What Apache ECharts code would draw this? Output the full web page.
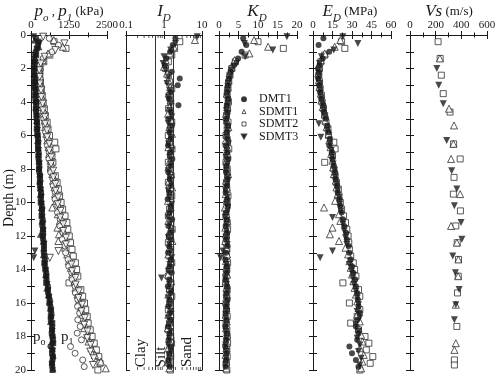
<!DOCTYPE html>
<html>
<head>
<meta charset="utf-8">
<script src="https://cdn.jsdelivr.net/npm/echarts@6.0.0/dist/echarts.min.js"></script>
<style>
  html, body { margin: 0; padding: 0; background: #fff; }
  #main { width: 500px; height: 376px; }
</style>
</head>
<body>
<div id="main"></div>
<script>
// depths (m) of each sounding
const depthDMT1 = [0.2,0.6,1.0,1.4,1.8,2.2,2.6,3.0,3.4,3.8,4.2,4.6,5.0,5.4,5.8,6.2,6.6,7.0,7.4,7.8,8.2,8.6,9.0,9.4,9.8,10.2,10.6,11.0,11.4,11.8,12.2,12.6,13.0,13.4,13.8,14.2,14.6,15.0,15.4,15.8,16.2,16.6,17.0,17.4,17.8,18.2,18.6,19.0,19.4,19.8]
const depthSDMT1 = [0.3,0.7,1.1,1.5,1.9,2.3,2.7,3.1,3.5,3.9,4.3,4.7,5.1,5.5,5.9,6.3,6.7,7.1,7.5,7.9,8.3,8.7,9.1,9.5,9.9,10.3,10.7,11.1,11.5,11.9,12.3,12.7,13.1,13.5,13.9,14.3,14.7,15.1,15.5,15.9,16.3,16.7,17.1,17.5,17.9,18.3,18.7,19.1,19.5,19.9]
const depthSDMT2 = [0.4,0.8,1.2,1.6,2.0,2.4,2.8,3.2,3.6,4.0,4.4,4.8,5.2,5.6,6.0,6.4,6.8,7.2,7.6,8.0,8.4,8.8,9.2,9.6,10.0,10.4,10.8,11.2,11.6,12.0,12.4,12.8,13.2,13.6,14.0,14.4,14.8,15.2,15.6,16.0,16.4,16.8,17.2,17.6,18.0,18.4,18.8,19.2,19.6,20.0]
const depthSDMT3 = [0.1,0.5,0.9,1.3,1.7,2.1,2.5,2.9,3.3,3.7,4.1,4.5,4.9,5.3,5.7,6.1,6.5,6.9,7.3,7.7,8.1,8.5,8.9,9.3,9.7,10.1,10.5,10.9,11.3,11.7,12.1,12.5,12.9,13.3,13.7,14.1,14.5,14.9,15.3,15.7,16.1,16.5,16.9,17.3,17.7,18.1,18.5,18.9,19.3,19.7]

// p0 (kPa)
const p0DMT1 = [170,230,150,110,95,100,120,125,145,140,170,165,185,210,205,230,225,250,245,275,270,300,295,330,325,355,360,385,370,400,395,430,420,460,455,500,510,555,560,620,640,670,650,700,680,720,640,690,710,700]
const p0SDMT1 = [120,260,140,100,110,95,130,120,150,160,155,185,180,205,220,215,240,235,265,260,290,285,310,300,340,335,360,355,390,310,400,420,410,450,470,480,530,520,570,600,630,660,640,690,720,680,700,730,690,720]
const p0SDMT2 = [240,190,170,130,115,110,135,140,135,165,160,180,195,190,220,235,230,255,260,265,295,290,315,330,320,360,350,380,395,390,420,425,445,440,480,505,500,560,590,610,660,650,700,690,710,730,700,720,690,710]
const p0SDMT3 = [90,280,210,130,105,100,110,130,140,155,150,175,190,200,215,210,240,250,245,280,275,300,315,310,340,350,375,370,395,405,400,430,130,90,460,480,500,530,560,590,630,650,680,660,700,690,720,710,700,690]

// p1 (kPa)
const p1DMT1 = [600,900,700,400,290,260,300,285,320,335,350,400,420,470,480,535,540,600,590,660,650,720,730,800,790,880,870,960,950,1050,1030,1120,1140,1220,1240,1340,1360,1450,1460,1540,1530,1600,1540,1620,1520,1660,1300,1450,1700,1750]
const p1SDMT1 = [750,1050,560,380,290,260,270,290,310,345,355,400,445,465,505,535,575,595,640,655,700,725,770,790,830,700,880,950,870,920,900,1120,1190,1240,1310,1350,1430,1460,1530,1570,1640,1670,1730,1750,1840,1890,1990,2100,2300,2460]
const p1SDMT2 = [760,1150,620,420,300,290,310,340,370,400,440,470,530,560,610,780,820,690,720,650,800,860,900,940,990,1040,1120,1180,1210,1260,1300,1350,1390,1460,1500,1540,1250,1640,1700,1760,1800,1850,1880,1950,2010,2080,2150,2230,2270,2200]
const p1SDMT3 = [400,1100,800,450,320,270,285,295,330,340,385,395,455,465,525,530,600,600,665,660,730,735,800,810,890,880,970,960,1060,1060,1150,1150,900,620,1330,1350,1460,1470,1570,1560,1680,1660,1770,1750,1860,1850,1960,1950,2060,2040]

// material index ID
const idDMT1 = [2.0,1.7,1.45,1.15,1.05,1.6,2.6,2.3,1.5,1.35,2.4,1.55,1.3,1.62,1.4,1.5,1.28,1.44,1.66,1.5,1.3,1.42,1.55,1.38,1.25,1.52,1.4,1.64,1.3,1.45,1.56,1.36,1.28,1.5,1.42,1.6,1.38,1.26,1.5,1.4,1.3,1.46,1.52,1.28,1.4,1.32,1.5,1.38,1.3,1.42]
const idSDMT1 = [6.5,1.8,1.4,1.1,1.0,1.2,1.3,1.45,1.32,1.5,1.4,1.28,1.55,1.38,1.62,1.4,1.3,1.5,1.44,1.3,1.52,1.36,1.64,1.42,1.28,1.5,1.38,1.3,1.55,1.4,1.66,1.4,1.3,1.5,1.38,1.28,1.52,1.4,1.3,1.42,1.5,1.3,1.4,1.26,1.5,1.4,1.28,1.42,1.3,1.38]
const idSDMT2 = [2.6,1.9,1.6,1.3,1.1,1.3,1.4,1.6,1.42,1.5,1.32,1.44,1.6,1.5,1.3,1.4,1.62,1.5,1.3,1.42,1.54,1.3,1.4,1.6,1.5,1.4,1.3,1.52,1.64,1.4,1.3,1.5,1.42,1.6,1.4,1.3,1.52,1.4,1.6,1.42,1.3,1.5,1.4,1.3,1.5,1.58,1.4,1.5,1.36,1.48]
const idSDMT3 = [7.5,2.0,1.5,1.0,0.95,1.1,1.3,1.2,1.4,1.3,1.5,1.4,1.6,1.3,1.42,1.5,1.32,1.6,1.4,1.5,1.3,1.44,1.52,1.3,1.4,1.6,1.5,1.3,1.42,1.54,1.3,1.4,1.5,1.6,1.42,1.3,0.86,1.4,1.5,1.3,1.42,1.52,1.3,1.4,1.5,1.38,1.3,1.5,1.4,1.32]

// horizontal stress index KD
const kdDMT1 = [6.2,7.0,5.8,4.9,3.8,3.0,2.6,2.3,2.1,2.4,2.0,2.2,1.8,2.3,2.0,2.2,1.7,2.1,2.4,1.9,1.8,2.2,2.0,1.7,2.1,2.3,1.8,2.0,1.7,2.1,1.9,2.2,1.8,1.6,2.0,1.9,1.7,2.1,1.9,2.2,1.8,1.7,1.9,1.6,2.0,1.8,1.6,1.9,1.8,1.7]
const kdSDMT1 = [9.0,12.6,7.8,4.0,3.2,2.7,2.4,2.2,2.0,2.3,2.1,1.8,2.0,2.4,2.0,1.7,2.1,2.2,1.9,2.0,2.3,1.8,2.0,1.7,2.0,1.5,1.9,2.1,1.6,1.8,1.6,1.9,2.1,1.8,1.9,2.1,1.7,1.9,2.0,1.8,1.9,1.7,2.0,1.8,2.1,1.8,1.9,1.7,1.8,1.9]
const kdSDMT2 = [10.0,16.5,6.7,4.2,3.3,2.8,2.5,2.3,2.1,2.4,2.2,1.9,2.3,2.1,1.8,2.2,2.5,2.0,1.8,2.1,2.2,1.9,2.0,2.3,2.1,1.9,1.8,2.1,2.2,1.9,1.8,2.0,1.9,2.2,2.0,1.8,1.7,2.1,2.0,1.8,1.9,2.1,1.8,2.0,2.1,2.2,2.0,2.1,1.9,2.0]
const kdSDMT3 = [17.4,6.5,13.8,6.7,4.5,3.2,2.8,2.4,2.2,2.0,2.3,1.9,2.1,1.8,2.2,1.9,2.4,2.0,1.8,2.1,1.9,2.2,2.0,1.7,2.1,1.9,2.2,1.6,2.0,1.9,1.8,2.1,1.0,0.4,1.9,2.0,1.7,1.9,2.1,1.8,1.9,2.0,1.7,1.9,1.8,2.0,1.7,1.9,1.8,1.7]

// dilatometer modulus ED (MPa)
const edDMT1 = [8,4.3,12.5,7.5,5,4.5,4,5,5.5,6.5,8,8.5,10,11,12,13,12.5,14.5,15,16,17,17.5,18.5,19,20.5,21,22,23,24,25.5,26,27.5,28,29,30,31,32.5,33,34,34.5,35,36,34,33,35,34,28,30,33,35]
const edSDMT1 = [21,16.7,9,6,4.5,4,4.5,5,6,6.5,7.5,9,9.5,10.5,12,12.5,13.5,14,15,15.5,16,17.5,18,19,17,8.5,20,21,15,13,20,25,27,28,29,30,31,32,33,34,35,34,36,35,37,38,36,39,38,37]
const edSDMT2 = [22,24.5,9,6,5,4.5,5,5.5,6.5,7,8,9,10,11.5,12,16,17,15,9,16,17,18,19.5,20,21,22,23.5,25,26,27,27.5,28,29,31,32,33,23,35,36,28,36,34,29,35,40,43,41,46,44,36]
const edSDMT3 = [23,34.5,16,6.5,5,4,4.5,5,5.5,6,7,8,9,4.5,11,6,13,14,14.5,15.5,16.5,17,18,19,20,20.5,21.5,15,23,24,25,26,15,5.5,28,29.5,30.5,31.5,33,34,35,34,36,33,35,34,36,35,37,36]

// shear wave velocity Vs (m/s), seismic soundings only
const vsDepthSDMT1 = [1.4,4.4,5.4,6.5,7.4,9.5,11.4,12.4,13.4,14.4,16.1,18.4,18.8]
const vsSDMT1 = [233,304,343,338,320,391,320,365,377,375,357,357,346]
const vsDepthSDMT2 = [0.4,1.4,2.4,3.5,4.6,6.5,7.4,8.5,9.5,10.5,11.4,12.4,13.4,14.4,15.4,17.4,19.4,19.7]
const vsSDMT2 = [219,235,244,259,312,340,391,343,338,393,357,368,378,376,370,365,346,346]
const vsDepthSDMT3 = [2.0,3.0,4.1,6.3,8.1,9.2,10.2,11.2,12.2,13.2,14.2,15.2,16.1,17.0]
const vsSDMT3 = [209,224,259,286,325,365,346,398,404,333,354,383,357,346]

// ID soil type limits and log minor ticks
const idBoundaries = [0.6, 1.8]
const idMinorTicks = [0.2,0.3,0.4,0.5,0.6,0.7,0.8,0.9,2,3,4,5,6,7,8,9]

const serif = '"Liberation Serif", "DejaVu Serif", serif'
const ink = '#1a1a1a'
const open = { color: '#fff', borderColor: ink, borderWidth: 0.9 }
const solid = { color: ink }

const marks = {
  DMT1: { symbol: 'circle', size: 6, rotate: 0, style: solid },
  SDMT1: { symbol: 'triangle', size: 7, rotate: 0, style: open },
  SDMT2: { symbol: 'rect', size: 6, rotate: 0, style: open },
  SDMT3: { symbol: 'triangle', size: 7, rotate: 180, style: solid },
}

const soundings = [
  { name: 'SDMT2', depth: depthSDMT2, p0: p0SDMT2, p1: p1SDMT2, id: idSDMT2, kd: kdSDMT2, ed: edSDMT2, vsDepth: vsDepthSDMT2, vs: vsSDMT2 },
  { name: 'SDMT1', depth: depthSDMT1, p0: p0SDMT1, p1: p1SDMT1, id: idSDMT1, kd: kdSDMT1, ed: edSDMT1, vsDepth: vsDepthSDMT1, vs: vsSDMT1 },
  { name: 'DMT1', depth: depthDMT1, p0: p0DMT1, p1: p1DMT1, id: idDMT1, kd: kdDMT1, ed: edDMT1 },
  { name: 'SDMT3', depth: depthSDMT3, p0: p0SDMT3, p1: p1SDMT3, id: idSDMT3, kd: kdSDMT3, ed: edSDMT3, vsDepth: vsDepthSDMT3, vs: vsSDMT3 },
]

const grids = [
  { left: 31, width: 76 },
  { left: 126, width: 76 },
  { left: 219, width: 78 },
  { left: 313, width: 78 },
  { left: 410, width: 77 },
]
const xScales = [
  { type: 'value', min: 0, max: 2500, interval: 1250, minor: 2 },
  { type: 'log', min: 0.1, max: 10, logBase: 10, minor: 0 },
  { type: 'value', min: 0, max: 20, interval: 5, minor: 2 },
  { type: 'value', min: 0, max: 60, interval: 15, minor: 2 },
  { type: 'value', min: 0, max: 600, interval: 200, minor: 2 },
]

const lineStyle = { color: ink, width: 1 }
const xAxis = []
const yAxis = []
grids.forEach((g, i) => {
  const s = xScales[i]
  ;['top', 'bottom'].forEach((pos) => {
    xAxis.push({
      type: s.type, gridIndex: i, position: pos, min: s.min, max: s.max,
      interval: s.interval, logBase: s.logBase,
      axisLine: { lineStyle },
      axisTick: { inside: true, length: 4, lineStyle },
      minorTick: { show: s.minor > 0, splitNumber: s.minor || 5, length: 2.5, lineStyle },
      axisLabel: {
        show: pos === 'top', margin: 4, fontFamily: serif, fontSize: 11, color: ink,
        formatter: (v) => String(+v.toPrecision(6)),
      },
      splitLine: { show: false },
    })
  })
  ;['left', 'right'].forEach((pos) => {
    yAxis.push({
      type: 'value', gridIndex: i, position: pos, inverse: true, min: 0, max: 20, interval: 1,
      axisLine: { lineStyle },
      axisTick: { inside: true, length: 4, lineStyle },
      axisLabel: {
        show: i === 0 && pos === 'left', margin: 5, fontFamily: serif, fontSize: 11, color: ink,
        formatter: (v) => (v % 2 === 0 ? String(v) : ''),
      },
      splitLine: { show: false },
    })
  })
})

const scatter = (name, panel, xs, ys, mark, style) => ({
  type: 'scatter', name, xAxisIndex: panel * 2, yAxisIndex: panel * 2,
  data: ys.map((d, i) => [xs[i], d]),
  symbol: mark.symbol, symbolSize: mark.size, symbolRotate: mark.rotate,
  itemStyle: style || mark.style, silent: true, emphasis: { disabled: true },
})

const series = []
// p1 open, p0 filled
soundings.forEach((s) => series.push(scatter(s.name, 0, s.p1, s.depth, marks[s.name], open)))
soundings.forEach((s) => series.push(scatter(s.name, 0, s.p0, s.depth, marks[s.name], solid)))
soundings.forEach((s) => {
  const m = marks[s.name]
  series.push(scatter(s.name, 1, s.id, s.depth, m))
  series.push(scatter(s.name, 2, s.kd, s.depth, m))
  series.push(scatter(s.name, 3, s.ed, s.depth, m))
  if (s.vs) series.push(scatter(s.name, 4, s.vs, s.vsDepth, m))
})
// log minor ticks and soil boundaries on the ID panel
const tickMark = { symbol: 'rect', size: [0.9, 3], rotate: 0, style: { color: ink } }
series.push({
  ...scatter('ticks', 1, idMinorTicks, idMinorTicks.map(() => 0), tickMark),
  symbolOffset: [0, 1.5], clip: false, z: 1,
  markLine: {
    silent: true, symbol: ['none', 'none'], label: { show: false },
    lineStyle: { color: '#333', width: 1, type: 'solid' },
    data: idBoundaries.map((v) => ({ xAxis: v })),
  },
})
series.push({
  ...scatter('ticks', 1, idMinorTicks, idMinorTicks.map(() => 20), tickMark),
  symbolOffset: [0, -1.5], clip: false, z: 1,
})

const txt = (x, y, text, extra) => ({
  type: 'text', x, y, silent: true,
  style: Object.assign({ text, fill: ink, font: '14px ' + serif, textAlign: 'center', textVerticalAlign: 'middle', align: 'center', verticalAlign: 'middle' }, extra),
})
const rich = {
  i: { fontFamily: serif, fontStyle: 'italic', fontSize: 17, lineHeight: 24, verticalAlign: 'middle', textVerticalAlign: 'middle', fill: ink },
  s: { fontFamily: serif, fontStyle: 'italic', fontSize: 11, lineHeight: 24, verticalAlign: 'bottom', textVerticalAlign: 'bottom', fill: ink },
  n: { fontFamily: serif, fontSize: 13, lineHeight: 24, verticalAlign: 'middle', textVerticalAlign: 'middle', fill: ink },
  r: { fontFamily: serif, fontSize: 15, lineHeight: 20, verticalAlign: 'middle', textVerticalAlign: 'middle', fill: ink },
  t: { fontFamily: serif, fontSize: 10, lineHeight: 20, verticalAlign: 'bottom', textVerticalAlign: 'bottom', fill: ink },
}

const graphic = [
  txt(69, 12, '{i|p}{s|o}{n| , }{i|p}{s|1}{n| (kPa)}', { rich }),
  txt(164, 12, '{i|I}{s|D}', { rich }),
  txt(257, 12, '{i|K}{s|D}', { rich }),
  txt(350, 12, '{i|E}{s|D}{n| (MPa)}', { rich }),
  txt(449, 12, '{i|Vs}{n| (m/s)}', { rich }),
  Object.assign(txt(9, 198, 'Depth (m)', { font: '14px ' + serif }), { rotation: Math.PI / 2 }),
  Object.assign(txt(141, 353, 'Clay', { font: '15px ' + serif }), { rotation: Math.PI / 2 }),
  Object.assign(txt(161, 357, 'Silt', { font: '15px ' + serif }), { rotation: Math.PI / 2 }),
  Object.assign(txt(187, 352, 'Sand', { font: '15px ' + serif }), { rotation: Math.PI / 2 }),
  txt(33, 337, '{r|p}{t|o}', { rich, textAlign: 'left', align: 'left' }),
  txt(61, 337, '{r|p}{t|1}', { rich, textAlign: 'left', align: 'left' }),
]

const chart = echarts.init(document.getElementById('main'))
chart.setOption({
  animation: false,
  backgroundColor: '#fff',
  grid: grids.map((g) => ({ left: g.left, width: g.width, top: 35, height: 335, containLabel: false, outerBoundsMode: 'none' })),
  xAxis,
  yAxis,
  legend: {
    orient: 'vertical', left: 241, top: 93, padding: 0,
    itemWidth: 4, itemHeight: 4, itemGap: 0, selectedMode: false,
    textStyle: { fontFamily: serif, fontSize: 12, lineHeight: 12.4, color: ink, padding: [0, 0, 0, 8] },
    data: [
      { name: 'DMT1', icon: 'circle', itemStyle: solid },
      { name: 'SDMT1', icon: 'triangle', itemStyle: open },
      { name: 'SDMT2', icon: 'rect', itemStyle: open },
      { name: 'SDMT3', icon: 'path://M0,0L10,0L5,9Z', itemStyle: solid },
    ],
  },
  graphic,
  series,
})
</script>
</body>
</html>
